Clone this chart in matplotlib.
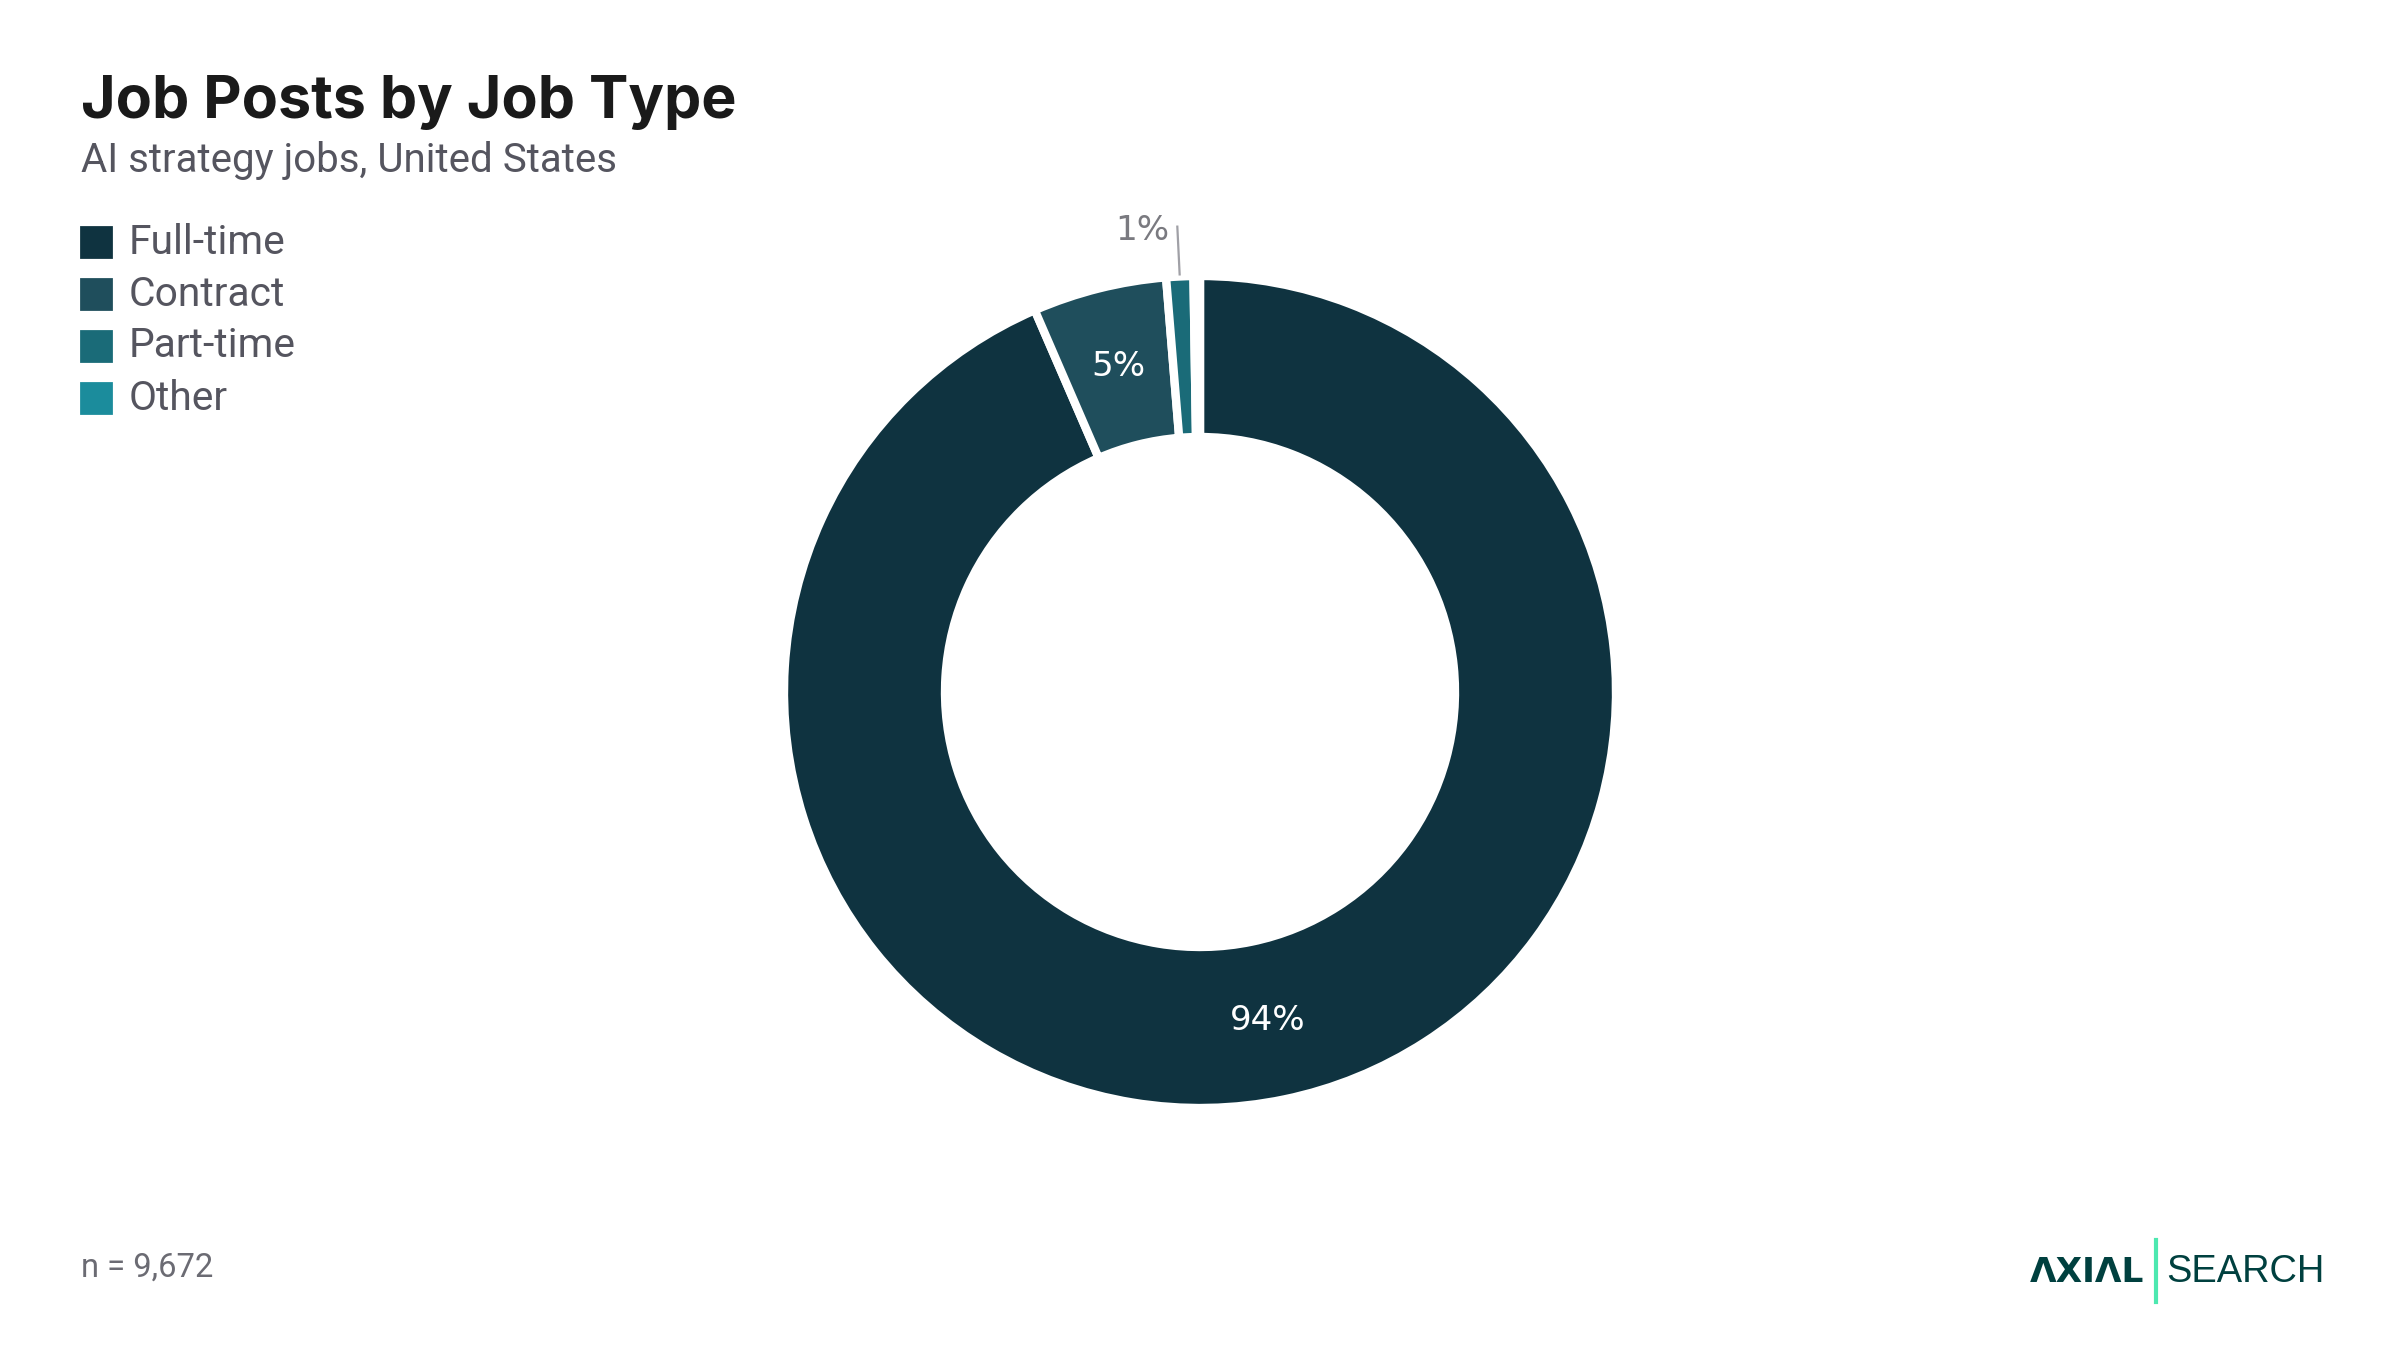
import numpy as np
import matplotlib.pyplot as plt

# data
job_types = ["Full-time", "Contract", "Part-time", "Other"]
shares = [93.5, 5.2, 1.05, 0.25]
labels = ["94%", "5%", "1%", ""]
colors = ["#0f3340", "#1f4e5c", "#1a6b78", "#1b8c9c"]

W, H, DPI = 2400, 1350, 200
fig = plt.figure(figsize=(W / DPI, H / DPI), dpi=DPI)
fig.patch.set_facecolor("white")

# donut geometry (pixels)
cx, cy, r_out, r_in = 1200, 692, 416, 255
ax = fig.add_axes([(cx - r_out) / W, (H - cy - r_out) / H, 2 * r_out / W, 2 * r_out / H])
wedges, _ = ax.pie(shares, colors=colors, startangle=90, counterclock=False,
                   radius=1.0,
                   wedgeprops=dict(width=1 - r_in / r_out, edgecolor="white", linewidth=3))
ax.set_xlim(-1, 1)
ax.set_ylim(-1, 1)
ax.set_aspect("equal")
ax.axis("off")

mid_r = (1 + r_in / r_out) / 2
for w, lab in zip(wedges, labels):
    if not lab:
        continue
    ang = np.deg2rad((w.theta1 + w.theta2) / 2)
    if (w.theta2 - w.theta1) > 10:
        ax.text(mid_r * np.cos(ang), mid_r * np.sin(ang), lab, ha="center", va="center",
                color="white", fontsize=12.3, family="DejaVu Sans")
    else:
        x0, y0 = 1.005 * np.cos(ang), 1.005 * np.sin(ang)
        x1, y1 = 1.12 * np.cos(ang), 1.12 * np.sin(ang)
        ax.plot([x0, x1], [y0, y1], color="#a0a0a6", lw=0.8, clip_on=False)
        ax.text(x1 - 0.02, y1 - 0.01, lab, ha="right", va="center",
                color="#7a7a80", fontsize=12.3, family="DejaVu Sans", clip_on=False)

# title block
fig.text(81 / W, 1 - 118 / H, "Job Posts by Job Type", fontsize=21.3, fontweight="bold",
         color="#1a1a1a", family="Inter", va="baseline")
fig.text(81 / W, 1 - 172 / H, "AI strategy jobs, United States", fontsize=14.5,
         color="#55555f", family="Roboto", va="baseline")

# legend
leg_y = [242, 294, 346, 398]
for name, col, y in zip(job_types, colors, leg_y):
    fig.patches.append(plt.Rectangle((81 / W, 1 - (y + 15) / H), 30 / W, 30 / H,
                                     transform=fig.transFigure, color=col))
    fig.text(129 / W, 1 - y / H, name, fontsize=14.7, color="#55555f", family="Roboto",
             va="center")

# footer
fig.text(81 / W, 1 - 1268 / H, "n = 9,672", fontsize=11.8, color="#6b6b73",
         family="Roboto", va="center")
fig.text(2144 / W, 1 - 1272 / H, "ΛXIΛL", fontsize=12.4, fontweight="bold",
         color="#00403f", family="DejaVu Sans", va="center", ha="right")
fig.add_artist(plt.Line2D([2156 / W, 2156 / W], [1 - 1240 / H, 1 - 1302 / H],
                          color="#4de8b0", lw=1.5))
fig.text(2166 / W, 1 - 1272 / H, "SEARCH", fontsize=13.7, color="#00403f",
         family="Liberation Sans", va="center")

fig.savefig("out.png", dpi=DPI, facecolor="white")
